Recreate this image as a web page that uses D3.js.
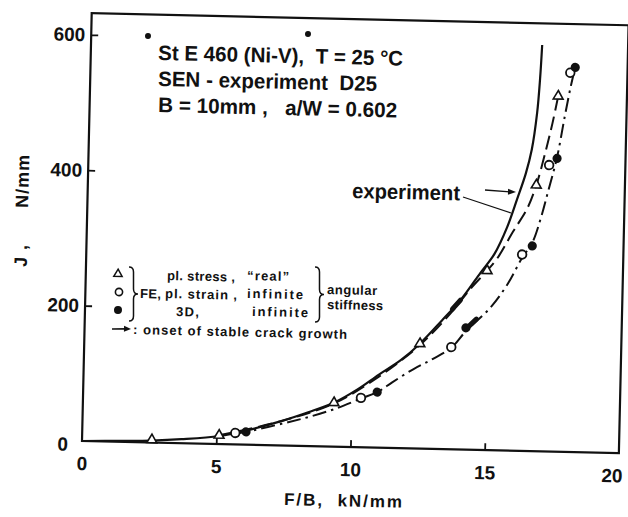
<!DOCTYPE html>
<html><head><meta charset="utf-8">
<script src="https://cdn.jsdelivr.net/npm/d3@7"></script>
<style>body{margin:0;background:#fff}svg{display:block}</style>
</head><body><svg id="c" width="628" height="517"></svg>
<script>
// ---- data ----
const xTicks = [0, 5, 10, 15, 20];
const yTicks = [0, 200, 400, 600];
// experiment (solid)
const expF = [0, 1.5, 2.6, 3.7, 5.1, 6.2, 7.4, 8.4, 9.35, 10.2, 11.0, 11.8, 12.5, 13.3, 14.0, 14.7, 15.2, 15.65, 16.0, 16.3, 16.5, 16.67, 16.75, 16.8];
const expJ = [0, 1.5, 3, 6, 12, 22, 36, 50, 65, 85, 108, 130, 155, 190, 222, 262, 290, 330, 372, 410, 445, 500, 550, 600];
// FE pl. stress curve (dashed)
const stressF = [5.1, 7.4, 9.35, 11.0, 12.5, 13.6, 14.32, 14.94, 15.3, 15.88, 16.38, 16.7, 17.0, 17.25, 17.44];
const stressJ = [13, 36, 64, 105, 153, 200, 237, 265, 283, 324, 358, 393, 440, 485, 525];
// FE pl. strain / 3D curve (dash-dot)
const strainF = [5.7, 6.1, 7.5, 8.5, 9.47, 10.35, 10.95, 11.5, 12.27, 13.0, 13.67, 14.2, 15.08, 15.7, 16.23, 16.6, 16.9, 17.15, 17.45, 17.7, 17.9, 18.05];
const strainJ = [16, 19, 33, 44, 57, 72, 82, 97, 117, 133, 150, 175, 210, 245, 285, 308, 345, 385, 435, 495, 540, 568];
// markers
const triF = [2.6, 5.1, 9.35, 12.5, 14.94, 16.7, 17.44];
const triJ = [4, 13, 65, 155, 265, 393, 525];
const openF = [5.7, 10.35, 13.67, 16.23, 17.16, 17.87];
const openJ = [17, 73, 151, 290, 423, 560];
const fillF = [6.1, 10.95, 14.2, 16.6, 17.45, 18.05];
const fillJ = [19, 82, 180, 303, 433, 568];
// onset of stable crack growth (on experiment curve, on dash-dot curve)
const onsetF = [13.85, 14.45];
const onsetJ = [215, 188];

// ---- layout ----
const svg = d3.select("#c");
const ox = 82, oy = 441, ang = 1.3;
const rad = ang * Math.PI / 180, cs = Math.cos(rad), sn = Math.sin(rad);
function unrot(X, Y) { const dx = X - ox, dy = Y - oy; return [ox + dx * cs + dy * sn, oy - dx * sn + dy * cs]; }
const x = d3.scaleLinear().domain([0, 20]).range([82, 619]);
const y = d3.scaleLinear().domain([0, 632]).range([441, 13]);
const g = svg.append("g").attr("transform", `rotate(${ang},${ox},${oy})`);
const font = "'Liberation Sans', Arial, sans-serif";
const ink = "#111";

// frame
g.append("rect").attr("x", x(0)).attr("y", y(632)).attr("width", x(20) - x(0)).attr("height", y(0) - y(632))
  .attr("fill", "none").attr("stroke", ink).attr("stroke-width", 2.2);

// axes (inward ticks)
const xa = g.append("g").attr("transform", `translate(0,${y(0)})`)
  .call(d3.axisBottom(x).tickValues(xTicks).tickSizeInner(-7).tickSizeOuter(0).tickPadding(13));
const ya = g.append("g").attr("transform", `translate(${x(0)},0)`)
  .call(d3.axisLeft(y).tickValues(yTicks).tickSizeInner(-7).tickSizeOuter(0).tickPadding(6));
[xa, ya].forEach(a => {
  a.select(".domain").remove();
  a.selectAll("line").attr("stroke", ink).attr("stroke-width", 1.8);
  a.selectAll("text").attr("font-family", font).attr("font-weight", "bold").attr("font-size", 19).attr("fill", ink);
});
xa.selectAll("line").filter(d => d === 0 || d === 20).remove();
ya.selectAll("line").filter(d => d === 0).remove();
xa.selectAll("text").attr("dy", "0.85em");
xa.selectAll("text").filter(d => d === 20).attr("dx", -7);
ya.selectAll("text").filter(d => d === 0).attr("dx", -8).attr("dy", "0.5em");

// axis titles
{
  const p = unrot(284, 505);
  g.append("text").attr("x", p[0]).attr("y", p[1])
    .attr("font-family", font).attr("font-weight", "bold").attr("font-size", 17).attr("fill", ink)
    .attr("xml:space", "preserve").attr("textLength", 118).attr("lengthAdjust", "spacing").text("F/B,  kN/mm");
  const q = unrot(28, 211);
  g.append("text").attr("transform", `translate(${q[0]},${q[1]}) rotate(-90)`).attr("text-anchor", "middle")
    .attr("font-family", font).attr("font-weight", "bold").attr("font-size", 18).attr("fill", ink)
    .attr("xml:space", "preserve").attr("textLength", 112).attr("lengthAdjust", "spacing").text("J ,      N/mm");
}

// curves
const line = d3.line().curve(d3.curveCatmullRom.alpha(0.5)).x(d => x(d[0])).y(d => y(d[1]));
const zip = (a, b) => a.map((v, i) => [v, b[i]]);
g.append("path").attr("d", line(zip(expF, expJ))).attr("fill", "none").attr("stroke", ink).attr("stroke-width", 2.2);
g.append("path").attr("d", line(zip(stressF, stressJ))).attr("fill", "none").attr("stroke", ink).attr("stroke-width", 2)
  .attr("stroke-dasharray", "14,6");
g.append("path").attr("d", line(zip(strainF, strainJ))).attr("fill", "none").attr("stroke", ink).attr("stroke-width", 2)
  .attr("stroke-dasharray", "14,5,2.5,5");

// onset marks (thick short segments along the curves)
const onsetCurves = [zip(expF, expJ), zip(strainF, strainJ)];
onsetF.forEach((f, i) => {
  const c = onsetCurves[i];
  let k = 1; while (k < c.length - 1 && c[k][0] < f) k++;
  const a = c[k - 1], b = c[k];
  const dx = x(b[0]) - x(a[0]), dy = y(b[1]) - y(a[1]); const L = Math.hypot(dx, dy);
  const ux = dx / L, uy = dy / L;
  const cx = x(f), cy = y(onsetJ[i]);
  g.append("line").attr("x1", cx - ux * 7).attr("y1", cy - uy * 7).attr("x2", cx + ux * 5).attr("y2", cy + uy * 5)
    .attr("stroke", ink).attr("stroke-width", 5).attr("stroke-linecap", "round");
});

// markers
const tri = d3.symbol().type(d3.symbolTriangle).size(42);
g.selectAll(".tri").data(zip(triF, triJ)).join("path").attr("d", tri)
  .attr("transform", d => `translate(${x(d[0])},${y(d[1])})`).attr("fill", "#fff").attr("stroke", ink).attr("stroke-width", 1.6);
g.selectAll(".oc").data(zip(openF, openJ)).join("circle").attr("cx", d => x(d[0])).attr("cy", d => y(d[1])).attr("r", 4.3)
  .attr("fill", "#fff").attr("stroke", ink).attr("stroke-width", 1.8);
g.selectAll(".fc").data(zip(fillF, fillJ)).join("circle").attr("cx", d => x(d[0])).attr("cy", d => y(d[1])).attr("r", 4.6)
  .attr("fill", ink);

// title block
const titleLines = ["St E 460 (Ni-V),  T = 25 °C", "SEN - experiment  D25", "B = 10mm ,   a/W = 0.602"];
const titleY = [60, 86, 112], titleW = [245, 219, 239];
titleLines.forEach((t, i) => {
  const p = unrot(158, titleY[i]);
  g.append("text").attr("x", p[0]).attr("y", p[1]).attr("font-family", font).attr("font-size", 21).attr("fill", ink)
    .attr("font-weight", "bold").attr("textLength", titleW[i]).attr("lengthAdjust", "spacingAndGlyphs")
    .attr("xml:space", "preserve").text(t);
});
// stray dots of the original print
[[148, 36], [308, 34]].forEach(d => { const p = unrot(d[0], d[1]); g.append("circle").attr("cx", p[0]).attr("cy", p[1]).attr("r", 3).attr("fill", ink); });

// "experiment" label with arrow and leader
{
  const p = unrot(352, 198);
  g.append("text").attr("x", p[0]).attr("y", p[1]).attr("font-family", font).attr("font-size", 21).attr("font-weight", "bold")
    .attr("fill", ink).attr("textLength", 108).attr("lengthAdjust", "spacingAndGlyphs").text("experiment");
  const a1 = unrot(485, 190), a2 = unrot(516, 192);
  g.append("line").attr("x1", a1[0]).attr("y1", a1[1]).attr("x2", a2[0] - 6).attr("y2", a2[1]).attr("stroke", ink).attr("stroke-width", 1.3);
  g.append("path").attr("d", `M${a2[0]},${a2[1]} l-8,-3 l0,6 z`).attr("fill", ink);
  const l1 = unrot(463, 197), l2 = unrot(511, 213);
  g.append("line").attr("x1", l1[0]).attr("y1", l1[1]).attr("x2", l2[0]).attr("y2", l2[1]).attr("stroke", ink).attr("stroke-width", 1.2);
}

// legend
{
  const lf = 13;
  const T = (X, Y, s, w) => { const p = unrot(X, Y); const t = g.append("text").attr("x", p[0]).attr("y", p[1]).attr("font-family", font)
      .attr("font-size", lf).attr("font-weight", "bold").attr("fill", ink).attr("xml:space", "preserve").text(s);
    if (w) t.attr("textLength", w).attr("lengthAdjust", "spacing"); return t; };
  let p = unrot(118, 274);
  g.append("path").attr("d", d3.symbol().type(d3.symbolTriangle).size(30)).attr("transform", `translate(${p[0]},${p[1]})`)
    .attr("fill", "#fff").attr("stroke", ink).attr("stroke-width", 1.5);
  p = unrot(119, 292);
  g.append("circle").attr("cx", p[0]).attr("cy", p[1]).attr("r", 3.6).attr("fill", "#fff").attr("stroke", ink).attr("stroke-width", 1.6);
  p = unrot(118, 310);
  g.append("circle").attr("cx", p[0]).attr("cy", p[1]).attr("r", 4).attr("fill", ink);
  const brace = (X, y1, y2, w) => {
    const ym = (y1 + y2) / 2, r = 5, h = X + w / 2;
    const P = (a, b) => unrot(a, b).join(",");
    return `M${P(X, y1)} Q${P(h, y1)} ${P(h, y1 + r)} L${P(h, ym - r)} Q${P(h, ym)} ${P(X + w, ym)} Q${P(h, ym)} ${P(h, ym + r)} L${P(h, y2 - r)} Q${P(h, y2)} ${P(X, y2)}`;
  };
  g.append("path").attr("d", brace(129, 267, 321, 9)).attr("fill", "none").attr("stroke", ink).attr("stroke-width", 1.5);
  g.append("path").attr("d", brace(315, 267, 322, 9)).attr("fill", "none").attr("stroke", ink).attr("stroke-width", 1.5);
  T(167, 280, "pl. stress ,", 68); T(247, 280, "\u201Creal\u201D", 42);
  T(140, 298, "FE,", 21); T(165, 298, "pl. strain ,", 72); T(247, 298, "infinite", 56);
  T(176, 316, "3D,", 23); T(252, 316, "infinite", 56);
  T(327, 294, "angular", 50); T(327, 309, "stiffness", 56);
  const a1 = unrot(112, 329), a2 = unrot(131, 329);
  g.append("line").attr("x1", a1[0]).attr("y1", a1[1]).attr("x2", a2[0] - 5).attr("y2", a2[1]).attr("stroke", ink).attr("stroke-width", 1.6);
  g.append("path").attr("d", `M${a2[0]},${a2[1]} l-7,-3 l0,6 z`).attr("fill", ink);
  T(133, 334, ": onset of stable crack growth", 214);
}
</script></body></html>
